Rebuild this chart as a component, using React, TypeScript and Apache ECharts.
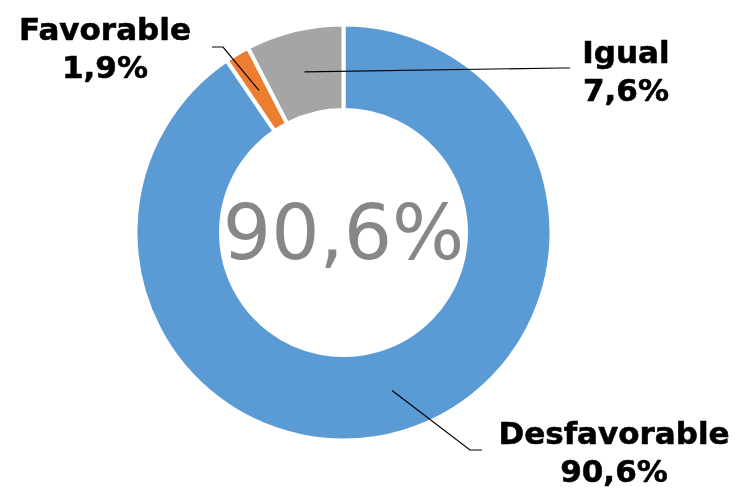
import React, { useEffect, useRef } from 'react';
import * as echarts from 'echarts';

const categories = ['Desfavorable', 'Favorable', 'Igual'];
const values = [90.6, 1.9, 7.6];
const colors = ['#5B9BD5', '#ED7D31', '#A5A5A5'];
const centerValueIndex = 0;

// annotation (label) layout, not data
const labelAnchors = [
  { x: 614, y: 452, elbow: [470, 450], end: [482, 450] },
  { x: 105, y: 48, elbow: [223, 47], end: [212, 47] },
  { x: 626, y: 71, elbow: [560, 68], end: [570, 68] },
];

const CENTER = [343.5, 232.5];
const RADIUS = [122.5, 208];

const fmt = (v: number) => v.toFixed(1).replace('.', ',') + '%';

export default function App() {
  const ref = useRef<HTMLDivElement>(null);
  useEffect(() => {
    const chart = echarts.init(ref.current!, null, { renderer: 'svg' });
    const total = values.reduce((a, b) => a + b, 0);
    const midR = (RADIUS[0] + RADIUS[1]) / 2;
    const startPoints = values.map((v, i) => {
      const before = values.slice(0, i).reduce((a, b) => a + b, 0);
      const ang = ((before + v / 2) / total) * 2 * Math.PI;
      return [CENTER[0] + midR * Math.sin(ang), CENTER[1] - midR * Math.cos(ang)];
    });
    const leaderLines = values.map((_, i) => ({
      type: 'polyline',
      z: 100,
      silent: true,
      shape: { points: [startPoints[i], labelAnchors[i].elbow, labelAnchors[i].end] },
      style: { stroke: '#000000', lineWidth: 1.2, fill: null },
    }));
    chart.setOption({
      animation: false,
      graphic: [
        {
          type: 'text',
          x: CENTER[0],
          y: CENTER[1],
          style: {
            text: fmt(values[centerValueIndex]),
            fontSize: 76,
            fontFamily: 'DejaVu Sans',
            fill: '#878787',
            align: 'center',
            verticalAlign: 'middle',
          },
        },
        ...leaderLines,
      ],
      series: [
        {
          type: 'pie',
          center: CENTER,
          radius: RADIUS,
          startAngle: 90,
          clockwise: true,
          avoidLabelOverlap: false,
          data: categories.map((name, i) => ({ name, value: values[i], itemStyle: { color: colors[i] } })),
          itemStyle: { borderColor: '#ffffff', borderWidth: 4 },
          label: {
            show: true,
            formatter: (p: any) => `${p.name}\n${fmt(p.value)}`,
            fontFamily: 'DejaVu Sans',
            fontWeight: 'bold',
            fontSize: 31,
            lineHeight: 38,
            color: '#000000',
            textBorderColor: '#000000',
            textBorderWidth: 0.6,
          },
          labelLine: { show: false },
          labelLayout: (params: any) => {
            const a = labelAnchors[params.dataIndex];
            return { x: a.x, y: a.y, align: 'center', verticalAlign: 'middle' };
          },
          emphasis: { disabled: true },
        },
      ],
    });
    return () => chart.dispose();
  }, []);
  return <div ref={ref} style={{ position: 'fixed', left: 0, top: 0, width: 741, height: 491 }} />;
}
